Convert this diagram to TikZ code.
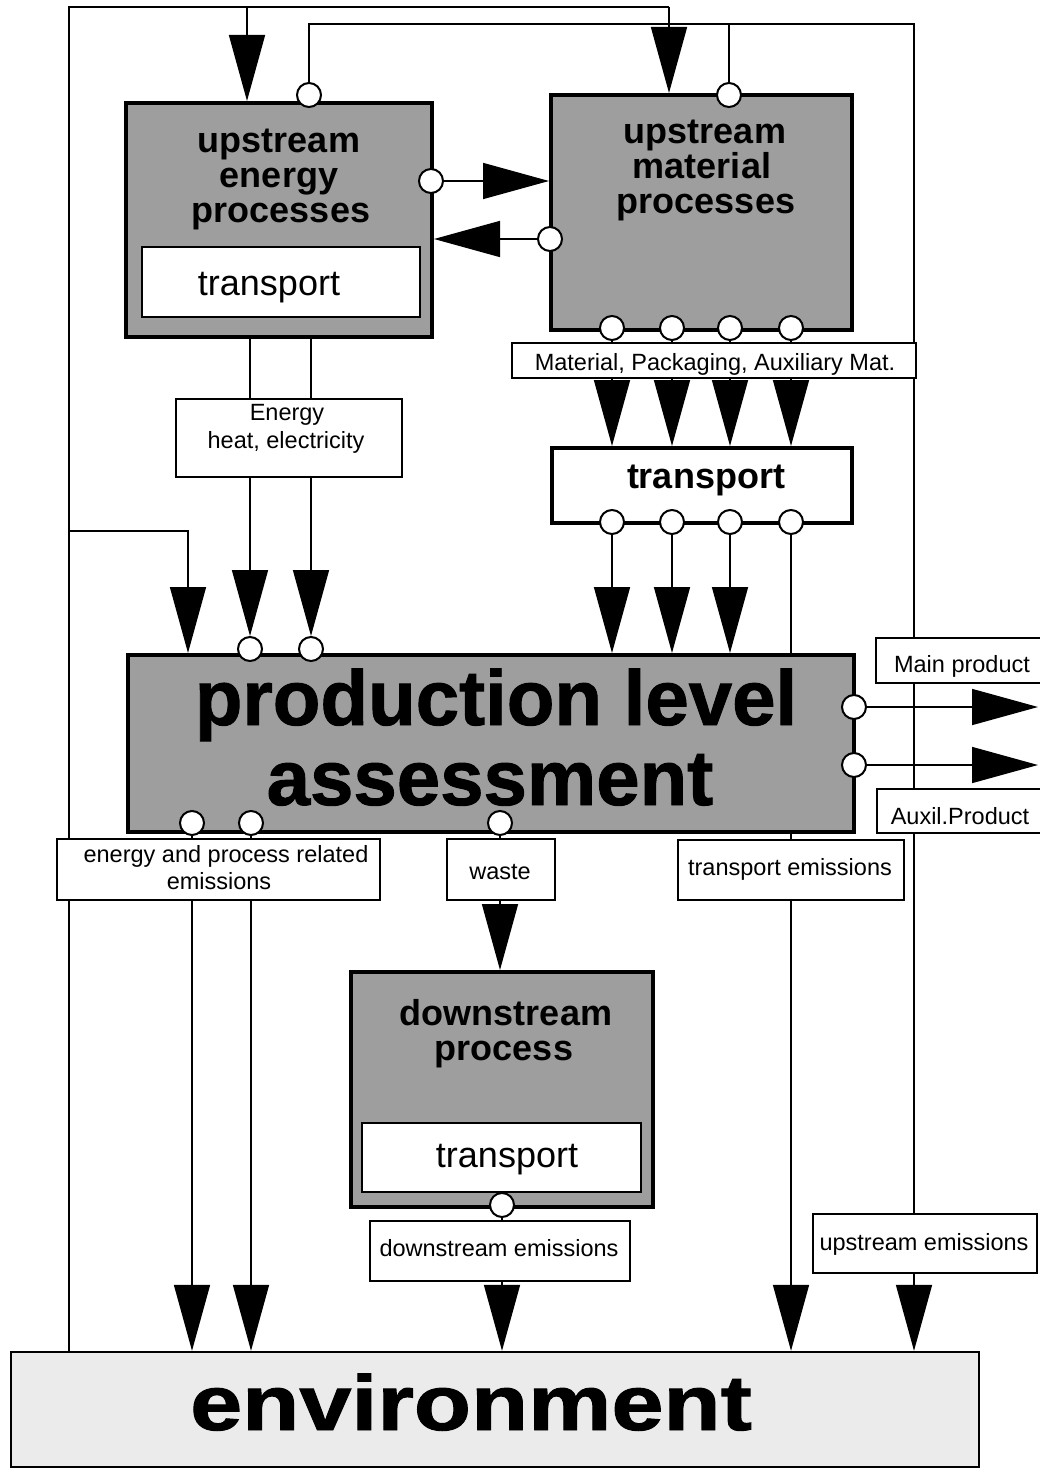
\documentclass[tikz,border=0pt]{standalone}
\usepackage{fontspec}
\setmainfont{Liberation Sans}
\newfontfamily\heavysans[FakeBold=1.2]{Liberation Sans Bold}
\usetikzlibrary{arrows.meta,backgrounds}
\definecolor{procgray}{gray}{0.62}
\definecolor{envgray}{gray}{0.92}
\begin{document}
\begin{tikzpicture}[x=1pt,y=-1pt,
  conn/.style={line width=1.6pt},
  flow/.style={conn,-{Triangle[length=66pt,width=36pt]}},
  procbox/.style={draw,line width=4pt,fill=procgray,inner sep=0pt},
  subbox/.style={draw,line width=2.4pt,fill=white,inner sep=0pt},
  tagbox/.style={draw,line width=2pt,fill=white,inner sep=0pt},
  port/.style={circle,draw,line width=2pt,fill=white,minimum size=24pt,inner sep=0pt},
  titletext/.style={anchor=base,inner sep=0pt,font=\fontsize{36}{36}\selectfont\bfseries},
  plaintext/.style={anchor=base,inner sep=0pt,font=\fontsize{36}{36}\selectfont},
  tagtext/.style={anchor=base,inner sep=0pt,font=\fontsize{23.5}{28}\selectfont},
  hugetext/.style={anchor=base,inner sep=0pt,font=\fontsize{78}{80}\heavysans},
]
\useasboundingbox (0,0) rectangle (1039,1469);

% ---------- boxes ----------
\node[procbox,minimum width=306pt,minimum height=234pt] (ue) at (279,220) {};
\node[subbox,minimum width=278pt,minimum height=70pt] (ueT) at (281,282) {};
\node[procbox,minimum width=301pt,minimum height=235pt] (um) at (701.5,212.5) {};
\node[tagbox,minimum width=404pt,minimum height=35pt] (mat) at (714,360.5) {};
\node[draw,line width=4pt,fill=white,inner sep=0pt,minimum width=300pt,minimum height=75pt] (tr) at (702,485.5) {};
\node[tagbox,minimum width=226pt,minimum height=78pt] (en) at (289,438) {};
\node[procbox,minimum width=726pt,minimum height=177pt] (pla) at (491,743.5) {};
\node[tagbox,minimum width=170pt,minimum height=45pt] (mp) at (961,660.5) {};
\node[tagbox,minimum width=170pt,minimum height=44pt] (ap) at (962,811) {};
\node[tagbox,minimum width=323pt,minimum height=61pt] (epe) at (218.5,869.5) {};
\node[tagbox,minimum width=108pt,minimum height=61pt] (waste) at (501,869.5) {};
\node[tagbox,minimum width=226pt,minimum height=60pt] (te) at (791,870) {};
\node[procbox,minimum width=302pt,minimum height=235pt] (ds) at (502,1089.5) {};
\node[subbox,minimum width=279pt,minimum height=69pt] (dsT) at (501.5,1157.5) {};
\node[tagbox,minimum width=260pt,minimum height=60pt] (de) at (500,1251) {};
\node[tagbox,minimum width=224pt,minimum height=59pt] (ue2) at (925,1243.5) {};
\node[draw,line width=2.4pt,fill=envgray,inner sep=0pt,minimum width=968pt,minimum height=115pt] (env) at (495,1409.5) {};

% ---------- texts ----------
\node[titletext] at (279,152) {upstream};
\node[titletext] at (279,187) {energy};
\node[titletext] at (281,222) {processes};
\node[plaintext] at (269,295) {transport};
\node[titletext] at (705,143) {upstream};
\node[titletext] at (702,178) {material};
\node[titletext] at (706,213) {processes};
\node[tagtext] at (715,370) {Material, Packaging, Auxiliary Mat.};
\node[titletext] at (706,488) {transport};
\node[tagtext] at (287,420) {Energy};
\node[tagtext] at (286,448) {heat, electricity};
\node[hugetext] at (496,725) {production level};
\node[hugetext] at (490,805) {assessment};
\node[tagtext] at (962,672) {Main product};
\node[tagtext] at (960,824) {Auxil.Product};
\node[tagtext] at (226,862) {energy and process related};
\node[tagtext] at (219,889) {emissions};
\node[tagtext] at (500,879) {waste};
\node[tagtext] at (790,875) {transport emissions};
\node[titletext] at (506,1025) {downstream};
\node[titletext] at (504,1060) {process};
\node[plaintext] at (507,1167) {transport};
\node[tagtext] at (499,1256) {downstream emissions};
\node[tagtext] at (924,1250) {upstream emissions};
\node[hugetext] at (471,1430) {\scalebox{1.2}[1]{environment}};

% ---------- ports ----------
\node[port] (ueTop) at (309,95) {};
\node[port] (ueR) at (431,181) {};
\node[port] (umL) at (550,239) {};
\node[port] (umTop) at (729,95) {};
\foreach \i/\x in {1/612,2/672,3/730,4/791}{
  \node[port] (umB\i) at (\x,328) {};
  \node[port] (trB\i) at (\x,522) {};
}
\node[port] (plaT1) at (250,649) {};
\node[port] (plaT2) at (311,649) {};
\node[port] (plaR1) at (854,707) {};
\node[port] (plaR2) at (854,765) {};
\node[port] (plaB1) at (192,823) {};
\node[port] (plaB2) at (251,823) {};
\node[port] (plaB3) at (500,823) {};
\node[port] (dsB) at (502,1205) {};

% ---------- routing points ----------
\coordinate (fL) at (69,7);
\coordinate (fR) at (669,7);
\coordinate (fA) at (247,7);
\coordinate (gL) at (309,24);
\coordinate (gM) at (729,24);
\coordinate (gR) at (914,24);
\coordinate (bj) at (69,531);
\coordinate (bk) at (188,531);
\coordinate (outEnd) at (1038,0);

% ---------- connectors ----------
\begin{scope}[on background layer]
  \draw[conn] (env.north -| fL) -- (fL) -- (fR);
  \draw[flow] (fR) -- (um.north -| fR);
  \draw[flow] (fA) -- (ue.north -| fA);
  \draw[conn] (ueTop) -- (gL) -- (gR) -- (ue2.north -| gR);
  \draw[conn] (umTop) -- (gM);
  \draw[flow] (ue2.south -| gR) -- (env.north -| gR);
  \draw[flow] (ueR) -- (ueR -| um.west);
  \draw[flow] (umL) -- (umL -| ue.east);
  \foreach \i in {1,2,3,4}{
    \draw[flow] (umB\i) -- (umB\i |- tr.north);
  }
  \foreach \i in {1,2,3}{
    \draw[flow] (trB\i) -- (trB\i |- pla.north);
  }
  \draw[flow] (trB4) -- (trB4 |- env.north);
  \draw[flow] (ue.south -| plaT1) -- (plaT1);
  \draw[flow] (ue.south -| plaT2) -- (plaT2);
  \draw[flow] (bj) -- (bk) -- (bk |- pla.north);
  \draw[flow] (plaB1) -- (plaB1 |- env.north);
  \draw[flow] (plaB2) -- (plaB2 |- env.north);
  \draw[flow] (plaB3) -- (plaB3 |- ds.north);
  \draw[flow] (dsB) -- (dsB |- env.north);
  \draw[flow] (plaR1) -- (plaR1 -| outEnd);
  \draw[flow] (plaR2) -- (plaR2 -| outEnd);
\end{scope}
\end{tikzpicture}
\end{document}
